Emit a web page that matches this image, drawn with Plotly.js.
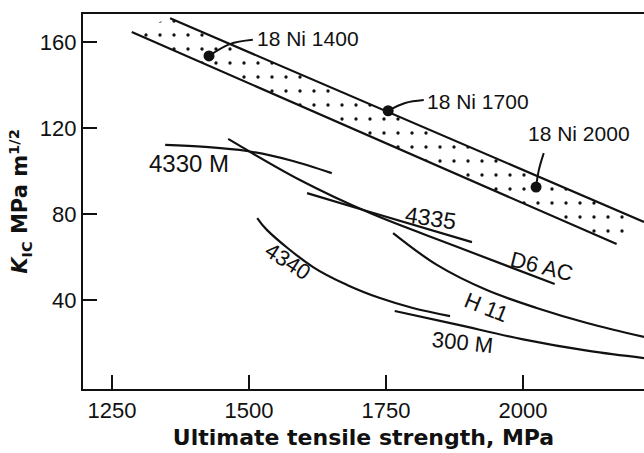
<!DOCTYPE html>
<html>
<head>
<meta charset="utf-8">
<script src="https://cdn.plot.ly/plotly-3.0.1.min.js"></script>
<style>html,body{margin:0;padding:0;background:#fff}#chart{width:644px;height:453px}</style>
</head>
<body>
<div id="chart"></div>
<script>
// Band of 18 Ni maraging steels (boundaries)
const bandLowerX = [1286, 2171];
const bandLowerY = [164.6, 66];
const bandUpperX = [1356, 2221];
const bandUpperY = [171, 76.3];

// 18 Ni grades (points)
const niNames = ["18 Ni 1400", "18 Ni 1700", "18 Ni 2000"];
const niX = [1427, 1754, 2024];
const niY = [153.5, 128, 92.5];

// Steel curves
const c4330M_x = [1347, 1420, 1496, 1575, 1651];
const c4330M_y = [112.1, 111.2, 109.3, 105, 99];
const cD6AC_x = [1462, 1593, 1721, 1876, 2058];
const cD6AC_y = [114.9, 95.8, 80.4, 65.1, 47.4];
const c4335_x = [1606, 1721, 1907];
const c4335_y = [89.7, 80.9, 66.9];
const cH11_x = [1763, 1843, 1934, 2025, 2117, 2221];
const cH11_y = [71.1, 56.3, 44.6, 36.3, 29.3, 22.8];
const c4340_x = [1515, 1533, 1617, 1679, 1739, 1799, 1867];
const c4340_y = [78.1, 72.5, 55.3, 47, 40.9, 36.3, 32.5];
const c300M_x = [1766, 1876, 1998, 2120, 2221];
const c300M_y = [34.9, 28.8, 21.8, 16.3, 13];

// Axis ticks
const xTicks = [1250, 1500, 1750, 2000];
const yTicks = [40, 80, 120, 160];

const FONT = "Liberation Sans, Arial, sans-serif";
const TFONT = "DejaVu Sans, Liberation Sans, sans-serif";
const black = "#111";
const lineStyle = {color: black, width: 2.2, shape: "spline"};

function curve(x, y) {
  return {x: x, y: y, mode: "lines", line: lineStyle, hoverinfo: "skip", showlegend: false};
}

const fillX = bandLowerX.concat(bandUpperX.slice().reverse());
const fillY = bandLowerY.concat(bandUpperY.slice().reverse());

const traces = [
  {x: fillX, y: fillY, mode: "lines", fill: "toself", line: {width: 0, color: "rgba(0,0,0,0)"},
   fillcolor: "rgba(255,255,255,0)",
   fillpattern: {shape: ".", size: 14, solidity: 0.045, fgcolor: black, bgcolor: "white"},
   hoverinfo: "skip", showlegend: false},
  {x: bandLowerX, y: bandLowerY, mode: "lines", line: {color: black, width: 2.2}, showlegend: false},
  {x: bandUpperX, y: bandUpperY, mode: "lines", line: {color: black, width: 2.2}, showlegend: false},
  curve(c4330M_x, c4330M_y),
  curve(cD6AC_x, cD6AC_y),
  curve(c4335_x, c4335_y),
  curve(cH11_x, cH11_y),
  curve(c4340_x, c4340_y),
  curve(c300M_x, c300M_y),
  // leader lines from points to labels
  {x: [niX[0], 1465, 1507], y: [niY[0], 159, 161], mode: "lines", line: {color: black, width: 2, shape: "spline"}, showlegend: false},
  {x: [niX[1], 1785, 1819], y: [niY[1], 131.6, 133], mode: "lines", line: {color: black, width: 2, shape: "spline"}, showlegend: false},
  {x: [niX[2], 2029, 2038], y: [niY[2], 100.4, 108.3], mode: "lines", line: {color: black, width: 2, shape: "spline"}, showlegend: false},
  {x: niX, y: niY, mode: "markers", marker: {color: black, size: 11}, text: niNames, showlegend: false}
];

function lab(text, x, y, angle, xanchor, size) {
  return {text: text, x: x, y: y, xref: "x", yref: "y", showarrow: false,
          textangle: angle || 0, xanchor: xanchor || "center", yanchor: "middle",
          font: {family: FONT, size: size || 22, color: black}};
}

const annotations = [
  lab(niNames[0], 1511, 161.8, 0, "left", 21),
  lab(niNames[1], 1821, 132.5, 0, "left", 21),
  lab(niNames[2], 2103, 117.2, 0, "center", 21),
  lab("4330 M", 1390, 103.7, 0, "center", 24),
  lab("4335", 1832, 78.1, 8, "center", 23),
  lab("D6 AC", 2035, 55.8, 14, "center", 22),
  lab("H 11", 1934, 36.7, 22, "center", 22),
  lab("300 M", 1890, 20.4, 6, "center", 22),
  lab("4340", 1571, 57.7, 33, "center", 22)
];

const layout = {
  width: 644, height: 453,
  margin: {l: 83, r: 0, t: 14, b: 64},
  paper_bgcolor: "white", plot_bgcolor: "white",
  showlegend: false,
  font: {family: FONT, size: 20, color: black},
  xaxis: {
    range: [1197, 2221], tickvals: xTicks, ticktext: xTicks.map(String),
    ticks: "inside", ticklen: 14, tickwidth: 2, tickcolor: black,
    showline: true, linewidth: 2.2, linecolor: black, mirror: true,
    showgrid: false, zeroline: false,
    tickfont: {family: FONT, size: 22, color: black},
    title: {text: "Ultimate tensile strength, MPa", font: {family: TFONT, size: 22, color: black, weight: "bold"}, standoff: 8}
  },
  yaxis: {
    range: [-1.4, 173], tickvals: yTicks, ticktext: yTicks.map(String),
    ticks: "inside", ticklen: 14, tickwidth: 2, tickcolor: black,
    showline: true, linewidth: 2.2, linecolor: black, mirror: false,
    showgrid: false, zeroline: false,
    tickfont: {family: FONT, size: 22, color: black},
    title: {text: "<i>K</i><sub>IC</sub> MPa m<sup>1/2</sup>", font: {family: TFONT, size: 21, color: black, weight: "bold"}, standoff: 6}
  },
  annotations: annotations
};

Plotly.newPlot("chart", traces, layout, {staticPlot: true, displayModeBar: false});
</script>
</body>
</html>
